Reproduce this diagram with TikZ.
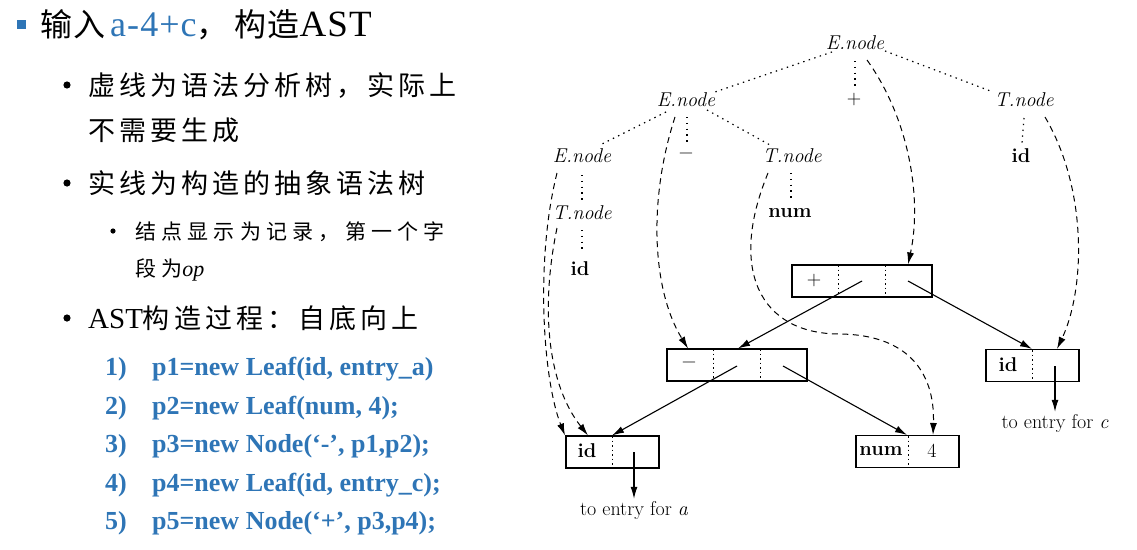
\documentclass[tikz,border=0pt]{standalone}
\usepackage{fontspec}
\usetikzlibrary{arrows.meta,calc}
\newfontfamily\cjkT{Noto Sans CJK SC}[LetterSpace=3]
\newfontfamily\cjkM{Noto Sans CJK SC}[LetterSpace=15]
\newfontfamily\cjkS{Noto Sans CJK SC}[LetterSpace=25]
\newfontfamily\tms{Liberation Serif}
\newfontfamily\tmsW{Liberation Serif}[LetterSpace=3]
\definecolor{pblue}{RGB}{46,117,182}
\tikzset{
  ttl/.style={inner sep=0pt, anchor=base west, font=\cjkT\fontsize{32}{34}\selectfont},
  mainl/.style={inner sep=0pt, anchor=base west, font=\cjkM\fontsize{27}{30}\selectfont},
  subl/.style={inner sep=0pt, anchor=base west, font=\cjkS\fontsize{21}{24}\selectfont},
  codel/.style={inner sep=0pt, anchor=base west, text=pblue, font=\tms\bfseries\fontsize{26}{28}\selectfont},
  lbl/.style={inner sep=1pt, font=\fontsize{20}{23}\selectfont},
  dot/.style={dash pattern=on 1.4pt off 4.4pt, line width=1.2pt},
  dsh/.style={dash pattern=on 6pt off 4.5pt, line width=1pt, -{Latex[length=12pt,width=7pt]}},
  sol/.style={line width=1.1pt, -{Latex[length=12pt,width=7pt]}},
  rec/.style={draw, line width=1.1pt, inner sep=0pt, minimum height=32pt},
  div/.style={dash pattern=on 1.5pt off 3pt, line width=0.9pt}
}
\begin{document}
\begin{tikzpicture}[x=1pt,y=-1pt]
\useasboundingbox (0,0) rectangle (1137,549);
% ---------------- left text ----------------
\fill[pblue] (17,20) rectangle (26,29);
\node[ttl] (t0) at (40,36) {输入\hspace{5pt}{\tmsW\fontsize{36}{36}\selectfont\color{pblue}a-4+c}，\hspace{6pt}构造{\tmsW\fontsize{37}{36}\selectfont AST}};
\fill (67,85) circle (3.6);
\node[mainl] (l1) at (88,95) {虚线为语法分析树，实际上};
\node[mainl] (l2) at (88,140) {不需要生成};
\fill (67,183) circle (3.6);
\node[mainl] (l3) at (88,193) {实线为构造的抽象语法树};
\fill (113,231) circle (2.6);
\node[subl] (l4) at (135,239) {结点显示为记录，第一个字};
\node[subl] (l5) at (135,276) {段为{\tms\itshape\fontsize{22}{24}\selectfont op}};
\fill (67,318) circle (3.6);
\node[mainl] (l6) at (88,328) {{\tms\fontsize{29}{30}\selectfont AST}构造过程：自底向上};
\foreach \i/\t [count=\k] in {375/{p1=new Leaf(id, entry\_a)},414/{p2=new Leaf(num, 4);},452/{p3=new Node(‘-’, p1,p2);},491/{p4=new Leaf(id, entry\_c);},529/{p5=new Node(‘+’, p3,p4);}}{
  \node[codel] (n\k) at (105,\i) {\k)};
  \node[codel] (c\k) at (152,\i) {\t};
}
% ---------------- parse tree ----------------
\node[lbl] (root) at (855,43) {\itshape E.node};
\node[lbl] (eL) at (686,100) {\itshape E.node};
\node[lbl] (plus) at (854,100) {+};
\node[lbl] (tR) at (1024,100) {\itshape T.node};
\node[lbl] (eLL) at (582,156) {\itshape E.node};
\node[lbl] (minus) at (686,156) {−};
\node[lbl] (tM) at (792,156) {\itshape T.node};
\node[lbl] (tL) at (582,213) {\itshape T.node};
\node[lbl] (num) at (790,213) {\bfseries num};
\node[lbl] (idR) at (1021,156) {\bfseries id};
\node[lbl] (idL) at (580,269) {\bfseries id};
\draw[dot] ($(root)+(-23,9)$) -- ($(eL)+(26,-7)$);
\draw[dot] ($(root)+(0,18)$) -- ($(plus)+(1,-13)$);
\draw[dot] ($(root)+(30,8)$) -- ($(tR)+(-31,-8)$);
\draw[dot] ($(eL)+(-20,12)$) -- ($(eLL)+(18,-11)$);
\draw[dot] ($(eL)+(1,17)$) -- ($(minus)+(1,-13)$);
\draw[dot] ($(eL)+(21,10)$) -- ($(tM)+(-22,-11)$);
\draw[dot] ($(eLL)+(0,19)$) -- ($(tL)+(0,-13)$);
\draw[dot] ($(tL)+(0,17)$) -- ($(idL)+(2,-16)$);
\draw[dot] ($(tM)+(-1,17)$) -- ($(num)+(1,-13)$);
\draw[dot] ($(tR)+(0,18)$) -- ($(idR)+(1,-13)$);
% ---------------- records ----------------
\node[rec, minimum width=140pt] (rplus) at (862,281) {};
\draw[div] (838,265) -- (838,297);
\draw[div] (885,265) -- (885,297);
\node[lbl] (rplusop) at (814,281) {+};
\node[rec, minimum width=140pt] (rminus) at (737,365) {};
\draw[div] (713,349) -- (713,381);
\draw[div] (760,349) -- (760,381);
\node[lbl] (rminusop) at (689,365) {−};
\node[rec, minimum width=93pt] (rida) at (612.5,452) {};
\draw[div] (612,436) -- (612,468);
\node[lbl] (ridaop) at (587,451) {\bfseries id};
\node[rec, minimum width=103pt] (rnum) at (907.5,451.5) {};
\draw[div] (908,436) -- (908,467);
\node[lbl] (rnumop) at (881,451) {\bfseries num};
\node[lbl] (rnumv) at (932,451) {4};
\node[rec, minimum width=93pt] (ridc) at (1032.5,365.5) {};
\draw[div] (1032,350) -- (1032,381);
\node[lbl] (ridcop) at (1008,365) {\bfseries id};
\node[lbl, inner sep=3pt] (ea) at (634,511) {to entry for \itshape a};
\node[lbl, inner sep=3pt] (ec) at (1055,424) {to entry for \itshape c};
% ---------------- AST pointers ----------------
\coordinate (p1) at (862,281);
\coordinate (p2) at (908,281);
\coordinate (m1) at (737,366);
\coordinate (m2) at (783,366);
\coordinate (a1) at (634,452);
\coordinate (c1) at (1055,366);
\draw[sol] (p1) -- (rminus.north -| 738,0);
\draw[sol] (p2) -- (ridc.north -| 1032,0);
\draw[sol] (m1) -- (rida.north -| 612,0);
\draw[sol] (m2) -- (rnum.north -| 907,0);
\draw[sol] (a1) -- (ea.north);
\draw[sol] (c1) -- (ec.north);
% ---------------- dashed pointers ----------------
\draw[dsh] ($(root)+(12,17)$) .. controls (910,120) and (922,200) .. (rplus.north -| 908,0);
\draw[dsh] ($(tR)+(21,17)$) .. controls (1088,190) and (1085,290) .. (ridc.north -| 1057,0);
\draw[dsh] ($(eLL)+(-25,17)$) .. controls (535,260) and (543,380) .. (rida.north -| 565,0);
\draw[dsh] ($(tL)+(-25,15)$) .. controls (540,310) and (548,385) .. (rida.north -| 588,0);
\draw[dsh] ($(eL)+(-11,17)$) .. controls (648,200) and (652,290) .. (rminus.north -| 688,0);
\draw[dsh] ($(tM)+(-24,17)$) .. controls (728,270) and (760,334) .. (840,334)
   .. controls (915,335) and (935,380) .. (rnum.north -| 933,0);
\end{tikzpicture}
\end{document}
